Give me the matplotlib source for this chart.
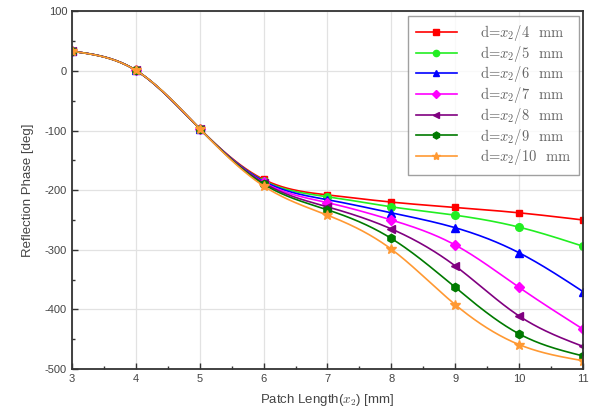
import numpy as np
import matplotlib
matplotlib.use("Agg")
import matplotlib.pyplot as plt

plt.rcParams['font.family'] = ['Liberation Sans', 'DejaVu Sans']
plt.rcParams['mathtext.fontset'] = 'cm'
plt.rcParams['axes.unicode_minus'] = False
plt.rcParams['axes.formatter.use_mathtext'] = True

patch_length = [3, 4, 5, 6, 7, 8, 9, 10, 11]
labels = ["4", "5", "6", "7", "8", "9", "10"]
phase_d4 = [33, 1, -97, -182, -208, -220, -229, -238, -250]
phase_d5 = [33, 1, -97, -184, -211, -228, -242, -262, -294]
phase_d6 = [33, 1, -97, -185, -216, -238, -263, -305, -370]
phase_d7 = [33, 1, -97, -187, -221, -250, -292, -363, -433]
phase_d8 = [33, 1, -97, -188, -228, -265, -327, -411, -462]
phase_d9 = [33, 1, -97, -190, -233, -281, -363, -441, -478]
phase_d10 = [33, 1, -97, -193, -242, -299, -392, -459, -486]

series = [phase_d4, phase_d5, phase_d6, phase_d7, phase_d8, phase_d9, phase_d10]
colors = ['#ff0000', '#22ee22', '#0000ff', '#ff00ff', '#800080', '#007a00', '#ff9933']
markers = ['s', 'o', '^', 'D', '<', 'h', '*']
msizes = [5, 5.5, 6, 5, 6, 6, 7]


def natural_spline(x, y, n=400):
    x = np.asarray(x, float); y = np.asarray(y, float)
    k = len(x)
    h = np.diff(x)
    A = np.zeros((k, k)); b = np.zeros(k)
    A[0, 0] = 1; A[-1, -1] = 1
    for i in range(1, k - 1):
        A[i, i - 1] = h[i - 1]
        A[i, i] = 2 * (h[i - 1] + h[i])
        A[i, i + 1] = h[i]
        b[i] = 6 * ((y[i + 1] - y[i]) / h[i] - (y[i] - y[i - 1]) / h[i - 1])
    M = np.linalg.solve(A, b)
    xs = np.linspace(x[0], x[-1], n)
    idx = np.clip(np.searchsorted(x, xs) - 1, 0, k - 2)
    x0 = x[idx]; x1 = x[idx + 1]; hh = x1 - x0
    t0 = x1 - xs; t1 = xs - x0
    ys = (M[idx] * t0**3 + M[idx + 1] * t1**3) / (6 * hh) \
        + (y[idx] / hh - M[idx] * hh / 6) * t0 \
        + (y[idx + 1] / hh - M[idx + 1] * hh / 6) * t1
    return xs, ys


fig = plt.figure(figsize=(5.9, 4.17), dpi=100)
ax = fig.add_axes([0.122, 0.115, 0.866, 0.858])

for vals, c, m, ms, lab in zip(series, colors, markers, msizes, labels):
    xs, ys = natural_spline(patch_length, vals)
    ax.plot(xs, ys, color=c, lw=1.2)
    ax.plot(patch_length, vals, linestyle='none', marker=m, color=c, ms=ms)
    ax.plot([], [], color=c, lw=1.2, marker=m, ms=ms - 1,
            label=r"d=$x_2/" + lab + r"$  mm")

ax.set_xlim(3, 11)
ax.set_ylim(-500, 100)
ax.set_xticks(patch_length)
ax.set_xticklabels([str(v) for v in patch_length])
yt = [100, 0, -100, -200, -300, -400, -500]
ax.set_yticks(yt)
ax.set_yticklabels([str(v) for v in yt])
ax.set_xticks(np.arange(3.5, 11, 1), minor=True)
ax.set_yticks(np.arange(-450, 100, 100), minor=True)
ax.grid(True, which='major', color='#e2e2e2', lw=0.9)
ax.set_axisbelow(True)
ax.tick_params(which='both', direction='in', colors='#333333', labelcolor='#444444',
               labelsize=8, top=False, right=False)
ax.tick_params(which='major', length=4, width=1)
ax.tick_params(which='minor', length=2.5, width=1)
for s in ax.spines.values():
    s.set_color('#333333')
    s.set_linewidth(1.3)

ax.set_xlabel(r"Patch Length($x_2$) [mm]", fontsize=9.5, color='#444444', labelpad=6)
ax.set_ylabel("Reflection Phase [deg]", fontsize=9.5, color='#444444', labelpad=8)

leg = ax.legend(loc='upper right', prop={'family': ['cmr10', 'DejaVu Serif'], 'size': 10.5},
                frameon=True, fancybox=False,
                edgecolor='#888888', handlelength=2.8, labelspacing=0.05,
                borderaxespad=0.3, handletextpad=1.6, borderpad=0.5)
leg.get_frame().set_linewidth(1.0)
for t in leg.get_texts():
    t.set_color('#666666')

fig.savefig("out.png", dpi=100)
